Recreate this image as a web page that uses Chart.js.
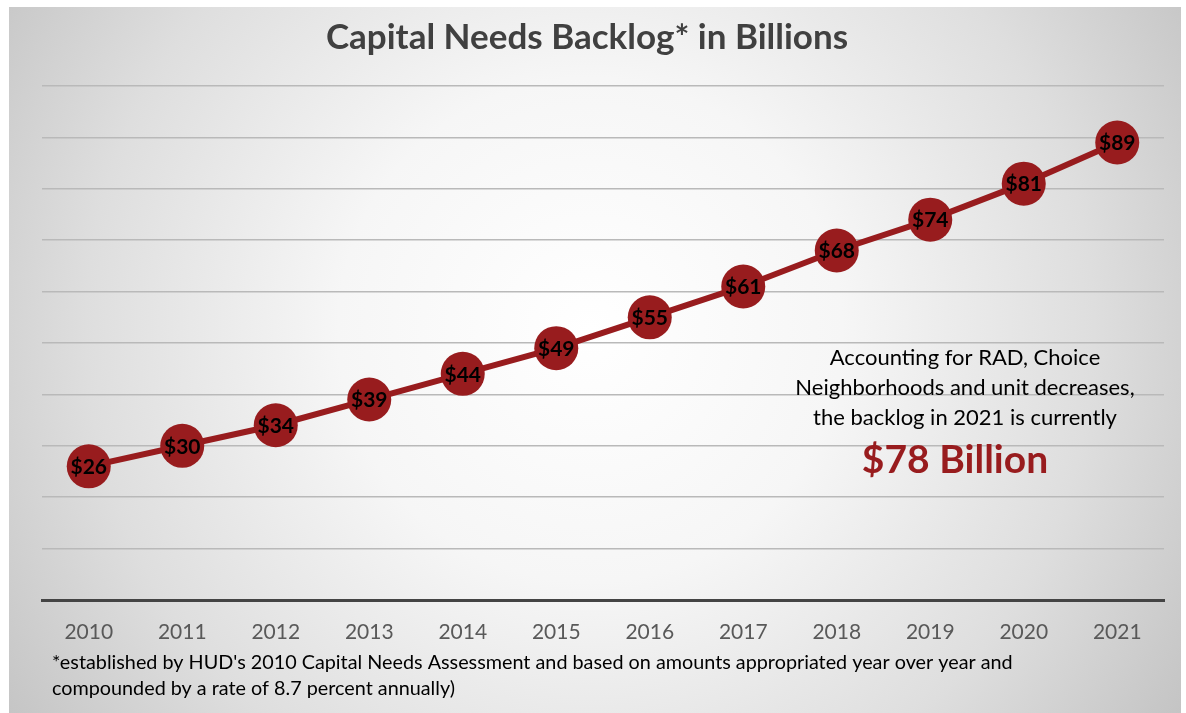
<!DOCTYPE html>
<html><head><meta charset="utf-8">
<script src="https://cdn.jsdelivr.net/npm/chart.js@4.4.0/dist/chart.umd.min.js"></script>
<style>html,body{margin:0;padding:0;background:#fff;}#wrap{width:1186px;height:713px;position:relative;}</style>
</head><body><div id="wrap"><canvas id="c" width="1186" height="713"></canvas></div>
<script>
const years = ['2010','2011','2012','2013','2014','2015','2016','2017','2018','2019','2020','2021'];
const backlog = [26, 30, 34, 39, 44, 49, 55, 61, 68, 74, 81, 89];
const titleText = 'Capital Needs Backlog* in Billions';
const noteLines = ['Accounting for RAD, Choice', 'Neighborhoods and unit decreases,', 'the backlog in 2021 is currently'];
const noteBig = '$78 Billion';
const footLines = ["*established by HUD's 2010 Capital Needs Assessment and based on amounts appropriated year over year and", 'compounded by a rate of 8.7 percent annually)'];
const RED = '#981C1E';
const FONT = 'Lato, "Open Sans", sans-serif';

const bgPlugin = {
  id: 'bg',
  beforeDraw(chart) {
    const ctx = chart.ctx;
    ctx.save();
    ctx.fillStyle = '#fff';
    ctx.fillRect(0, 0, chart.width, chart.height);
    const g = ctx.createRadialGradient(590, 330, 0, 590, 330, 720);
    g.addColorStop(0, '#ffffff');
    g.addColorStop(0.35, '#f6f6f6');
    g.addColorStop(0.7, '#dedede');
    g.addColorStop(1, '#c2c2c2');
    ctx.fillStyle = g;
    ctx.fillRect(9, 7, 1172, 706);
    ctx.restore();
  }
};

const textPlugin = {
  id: 'texts',
  afterDraw(chart) {
    const ctx = chart.ctx;
    ctx.save();
    ctx.textAlign = 'center';
    ctx.textBaseline = 'middle';
    ctx.fillStyle = '#404040';
    ctx.font = 'bold 35px ' + FONT;
    ctx.fillText(titleText, 587, 38);
    ctx.fillStyle = '#000';
    ctx.font = '22px ' + FONT;
    noteLines.forEach((t, i) => ctx.fillText(t, 965, 358 + i * 30));
    ctx.fillStyle = RED;
    ctx.font = 'bold 39px ' + FONT;
    ctx.fillText(noteBig, 955, 460);
    ctx.textAlign = 'left';
    ctx.fillStyle = '#000';
    ctx.font = '19.8px ' + FONT;
    footLines.forEach((t, i) => ctx.fillText(t, 52, 663 + i * 26));
    // point labels
    const meta = chart.getDatasetMeta(0);
    ctx.textAlign = 'center';
    ctx.font = 'bold 21px ' + FONT;
    ctx.fillStyle = '#000';
    meta.data.forEach((p, i) => ctx.fillText('$' + backlog[i], p.x, p.y + 1));
    ctx.restore();
  }
};

new Chart(document.getElementById('c'), {
  type: 'line',
  data: {
    labels: years,
    datasets: [{
      data: backlog,
      borderColor: RED,
      borderWidth: 6,
      backgroundColor: RED,
      pointRadius: 22,
      pointHoverRadius: 22,
      pointBackgroundColor: RED,
      pointBorderColor: RED,
      pointBorderWidth: 0,
      tension: 0,
      clip: false
    }]
  },
  options: {
    responsive: false,
    animation: false,
    events: [],
    layout: { padding: { top: 86, right: 22, left: 0, bottom: 0 } },
    plugins: { legend: { display: false }, title: { display: false }, tooltip: { enabled: false } },
    scales: {
      x: {
        offset: true,
        grid: { display: false, drawTicks: false },
        border: { display: true, color: '#444', width: 3 },
        ticks: { color: '#595959', font: { family: FONT, size: 21 }, padding: 20, maxRotation: 0, autoSkip: false },
        afterFit(s) { s.height = 113; }
      },
      y: {
        min: 0, max: 100,
        grid: { color: '#b9b9b9', lineWidth: 1.5, drawTicks: false },
        border: { display: false },
        ticks: { display: false, stepSize: 10 },
        afterFit(s) { s.width = 42; }
      }
    }
  },
  plugins: [bgPlugin, textPlugin]
});
</script></body></html>
